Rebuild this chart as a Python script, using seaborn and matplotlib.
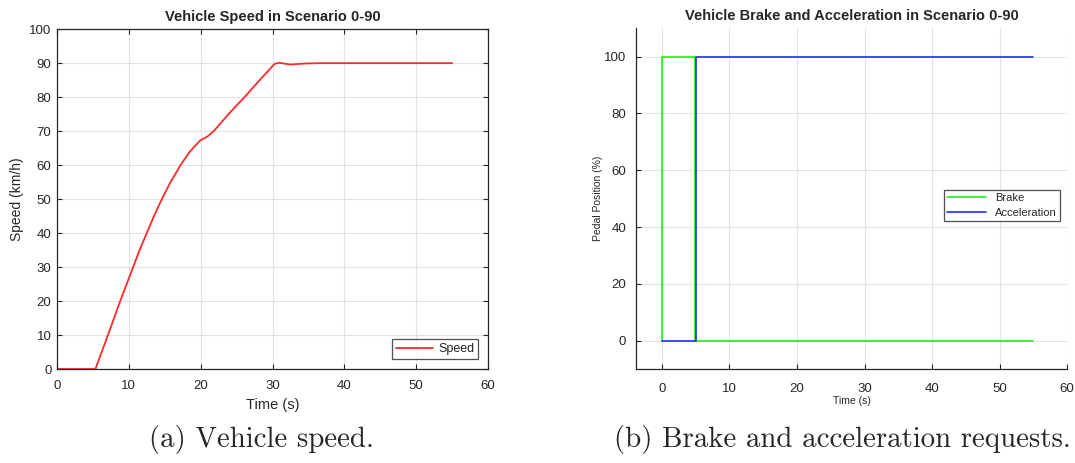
import numpy as np
import pandas as pd
import matplotlib
import matplotlib.pyplot as plt
import seaborn as sns

matplotlib.use('Agg')

# speed trace
speed_time = [0, 5.35, 7.1, 8.8, 10.6, 11.5, 12.5, 13.5, 14.6, 15.8, 17.2, 18.5,
              19.9, 21.0, 21.9, 24.0, 26.1, 28.2, 30.3, 30.9, 32.5, 34.5, 37.0,
              45.0, 55.0]
speed_kmh = [0, 0, 10, 20, 30, 35, 40, 45, 50, 55, 60, 64,
             67.2, 68.5, 70.2, 75.3, 80, 85, 89.8, 90.1, 89.6, 89.9, 90,
             90, 90]

# pedal positions (step signals)
brake_time = [0, 0, 4.95, 4.95, 55]
brake_pct = [0, 100, 100, 0, 0]
accel_time = [0, 5.1, 5.1, 55]
accel_pct = [0, 0, 100, 100]

sns.set_theme(style='whitegrid')
plt.rcParams['font.family'] = ['Liberation Sans', 'DejaVu Sans']

dark = '#262626'
grid_c = '#e3e3e3'

fig = plt.figure(figsize=(10.75, 4.63), dpi=100)
ax1 = fig.add_axes([0.053, 0.203, 0.401, 0.734])
ax2 = fig.add_axes([0.5916, 0.203, 0.401, 0.736])

# --- left panel: speed ---
df_speed = pd.DataFrame({'Time': speed_time, 'Speed': speed_kmh})
sns.lineplot(data=df_speed, x='Time', y='Speed', ax=ax1, color='#ff2a2a',
             linewidth=1.3, label='Speed', estimator=None, sort=False)
ax1.set_xlim(0, 60)
ax1.set_ylim(0, 100)
ax1.set_xticks(np.arange(0, 61, 10))
ax1.set_yticks(np.arange(0, 101, 10))
ax1.set_title('Vehicle Speed in Scenario 0-90', fontsize=10.5, fontweight='bold', pad=6)
ax1.set_xlabel('Time (s)', fontsize=10.5, color=dark, labelpad=4)
ax1.set_ylabel('Speed (km/h)', fontsize=10, color=dark, labelpad=4)
ax1.tick_params(axis='x', pad=8)
ax1.tick_params(axis='y', pad=4)
ax1.tick_params(direction='in', length=3.5, width=0.8, labelsize=9.5, colors=dark,
                top=True, right=True, bottom=True, left=True)
for s in ax1.spines.values():
    s.set_color(dark)
    s.set_linewidth(0.9)
ax1.grid(True, color=grid_c, linewidth=0.8)
leg1 = ax1.legend(loc='lower right', fontsize=9, frameon=True, fancybox=False,
                  handlelength=3.0, handletextpad=0.4, borderpad=0.3,
                  bbox_to_anchor=(0.991, 0.012))
leg1.get_frame().set_edgecolor(dark)
leg1.get_frame().set_linewidth(0.9)

# --- right panel: pedals ---
df_brake = pd.DataFrame({'Time': brake_time, 'Pedal': brake_pct})
df_accel = pd.DataFrame({'Time': accel_time, 'Pedal': accel_pct})
sns.lineplot(data=df_brake, x='Time', y='Pedal', ax=ax2, color='#1ef01e',
             linewidth=1.2, label='Brake', estimator=None, sort=False)
sns.lineplot(data=df_accel, x='Time', y='Pedal', ax=ax2, color='#1a30ff',
             linewidth=1.2, label='Acceleration', estimator=None, sort=False)
ax2.set_xlim(-3.85, 60)
ax2.set_ylim(-10, 110)
ax2.set_xticks(np.arange(0, 61, 10))
ax2.set_yticks(np.arange(0, 101, 20))
ax2.set_title('Vehicle Brake and Acceleration in Scenario 0-90', fontsize=10.5,
              fontweight='bold', pad=6)
ax2.set_xlabel('Time (s)', fontsize=7.5, color=dark, labelpad=1)
ax2.set_ylabel('Pedal Position (%)', fontsize=7.5, color=dark, labelpad=1)
ax2.tick_params(axis='x', pad=10)
ax2.tick_params(axis='y', pad=7)
ax2.tick_params(direction='in', length=3.5, width=0.8, labelsize=9.5, colors=dark,
                bottom=True, left=True)
ax2.spines['top'].set_visible(False)
ax2.spines['right'].set_visible(False)
for s in ['left', 'bottom']:
    ax2.spines[s].set_color(dark)
    ax2.spines[s].set_linewidth(0.9)
ax2.grid(True, color=grid_c, linewidth=0.8)
leg2 = ax2.legend(loc='center right', fontsize=8, frameon=True, fancybox=False,
                  handlelength=3.5, borderpad=0.3, labelspacing=0.45,
                  bbox_to_anchor=(0.997, 0.48))
leg2.get_frame().set_edgecolor(dark)
leg2.get_frame().set_linewidth(0.9)

# sub-figure captions
fig.text(0.243, 0.05, '(a) Vehicle speed.', ha='center', va='center',
         fontsize=20.8, family='cmr10')
fig.text(0.784, 0.05, '(b) Brake and acceleration requests.', ha='center',
         va='center', fontsize=20.8, family='cmr10')

fig.savefig('out.png', dpi=100, facecolor='white')
plt.close(fig)
